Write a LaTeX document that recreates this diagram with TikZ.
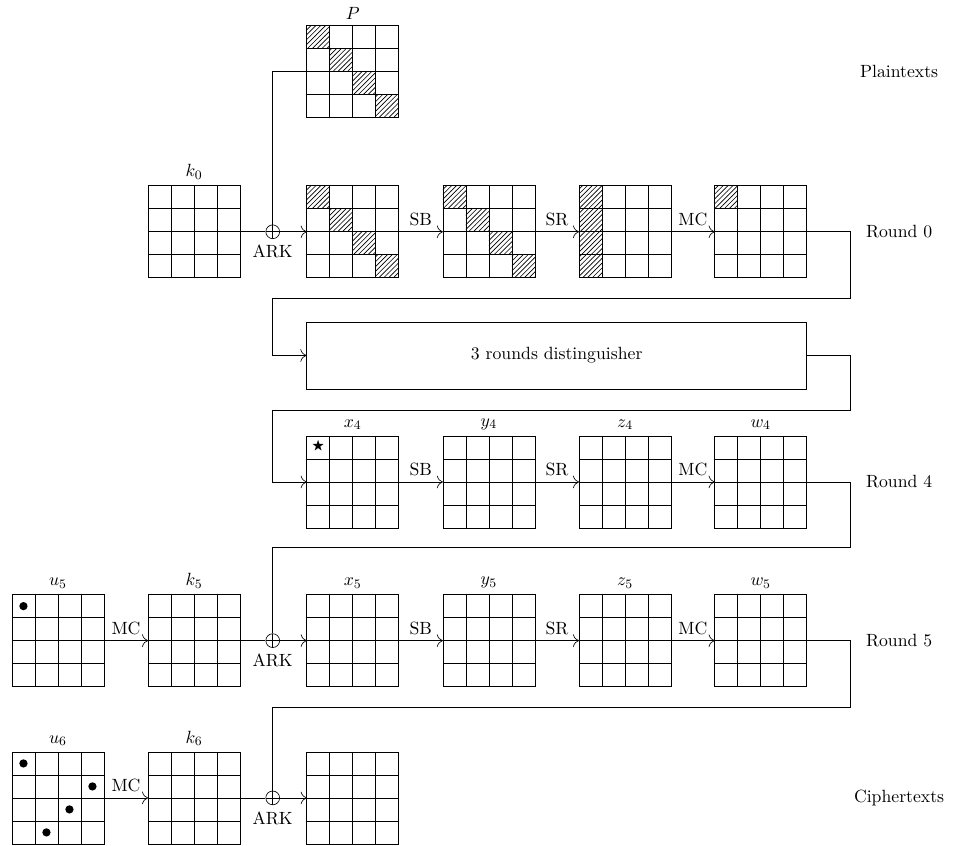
\documentclass[tikz,border=0pt,11pt]{standalone}
\usepackage{amsmath,amssymb}
\usetikzlibrary{patterns,arrows.meta}

\tikzset{
  >={To[scale=1.5]},
  state/.style={draw, minimum size=2cm, inner sep=0pt, outer sep=0pt},
  xorop/.style={circle, draw, minimum size=0.3cm, inner sep=0pt,
    path picture={\draw (path picture bounding box.north) -- (path picture bounding box.south)
      (path picture bounding box.west) -- (path picture bounding box.east);}},
}
\newcommand{\hatchcell}[3]{\fill[pattern=north east lines] ([shift={(#2*0.5,-#3*0.5)}]#1.north west) rectangle ++(0.5,-0.5);}
\newcommand{\dotcell}[3]{\fill ([shift={(#2*0.5+0.25,-#3*0.5-0.25)}]#1.north west) circle (0.09);}

\begin{document}
\begin{tikzpicture}
\useasboundingbox (0,0) rectangle (21.07,18.39);

\node[state, label=above:$P$] (P) at (7.67,16.83) {};
\node[state, label=above:$k_0$] (k0) at (4.22,13.35) {};
\node[xorop, label={below:ARK}] (ark0) at (5.93,13.35) {};
\node[state] (x0) at (7.67,13.35) {};
\node[state] (y0) at (10.63,13.35) {};
\node[state] (z0) at (13.59,13.35) {};
\node[state] (w0) at (16.54,13.35) {};

\node[draw, minimum width=10.87cm, minimum height=1.46cm] (dist) at (12.105,10.66) {3 rounds distinguisher};

\node[state, label=above:$x_4$] (x4) at (7.67,7.91) {};
\node[state, label=above:$y_4$] (y4) at (10.63,7.91) {};
\node[state, label=above:$z_4$] (z4) at (13.59,7.91) {};
\node[state, label=above:$w_4$] (w4) at (16.54,7.91) {};

\node[state, label=above:$u_5$] (u5) at (1.26,4.46) {};
\node[state, label=above:$k_5$] (k5) at (4.22,4.46) {};
\node[xorop, label={below:ARK}] (ark5) at (5.93,4.46) {};
\node[state, label=above:$x_5$] (x5) at (7.67,4.46) {};
\node[state, label=above:$y_5$] (y5) at (10.63,4.46) {};
\node[state, label=above:$z_5$] (z5) at (13.59,4.46) {};
\node[state, label=above:$w_5$] (w5) at (16.54,4.46) {};

\node[state, label=above:$u_6$] (u6) at (1.26,1.04) {};
\node[state, label=above:$k_6$] (k6) at (4.22,1.04) {};
\node[xorop, label={below:ARK}] (ark6) at (5.93,1.04) {};
\node[state] (x6) at (7.67,1.04) {};

\node (pt) at (19.55,16.83) {Plaintexts};
\node (rd0) at (19.55,13.35) {Round 0};
\node (rd4) at (19.55,7.91) {Round 4};
\node (rd5) at (19.55,4.46) {Round 5};
\node (ct) at (19.55,1.04) {Ciphertexts};

\hatchcell{P}{0}{0} \hatchcell{P}{1}{1} \hatchcell{P}{2}{2} \hatchcell{P}{3}{3}
\hatchcell{x0}{0}{0} \hatchcell{x0}{1}{1} \hatchcell{x0}{2}{2} \hatchcell{x0}{3}{3}
\hatchcell{y0}{0}{0} \hatchcell{y0}{1}{1} \hatchcell{y0}{2}{2} \hatchcell{y0}{3}{3}
\hatchcell{z0}{0}{0} \hatchcell{z0}{0}{1} \hatchcell{z0}{0}{2} \hatchcell{z0}{0}{3}
\hatchcell{w0}{0}{0}

\foreach \s in {P,k0,x0,y0,z0,w0,x4,y4,z4,w4,u5,k5,x5,y5,z5,w5,u6,k6,x6}
  \draw[shift={(\s.south west)}] (0,0) grid[step=0.5] (2,2);

\node[inner sep=0pt] (star) at ([shift={(0.25,-0.23)}]x4.north west) {\scriptsize$\bigstar$};
\dotcell{u5}{0}{0}
\dotcell{u6}{0}{0} \dotcell{u6}{3}{1} \dotcell{u6}{2}{2} \dotcell{u6}{1}{3}

\draw (P.west) -| (ark0);
\draw (k0) -- (ark0);
\draw[->] (ark0) -- (x0);
\draw[->] (x0) -- node[above] {SB} (y0);
\draw[->] (y0) -- node[above] {SR} (z0);
\draw[->] (z0) -- node[above] {MC} (w0);

\coordinate (e0) at (18.5,11.91);
\coordinate (f0) at (5.93,11.91);
\draw[->] (w0.east) -| (e0) -- (f0) |- (dist.west);
\coordinate (e1) at (18.5,9.46);
\coordinate (f1) at (5.93,9.46);
\draw[->] (dist.east) -| (e1) -- (f1) |- (x4.west);

\draw[->] (x4) -- node[above] {SB} (y4);
\draw[->] (y4) -- node[above] {SR} (z4);
\draw[->] (z4) -- node[above] {MC} (w4);

\coordinate (e2) at (18.5,6.48);
\draw (w4.east) -| (e2) -| (ark5);

\draw[->] (u5) -- node[above] {MC} (k5);
\draw (k5) -- (ark5);
\draw[->] (ark5) -- (x5);
\draw[->] (x5) -- node[above] {SB} (y5);
\draw[->] (y5) -- node[above] {SR} (z5);
\draw[->] (z5) -- node[above] {MC} (w5);

\coordinate (e3) at (18.5,3.02);
\draw (w5.east) -| (e3) -| (ark6);

\draw[->] (u6) -- node[above] {MC} (k6);
\draw (k6) -- (ark6);
\draw[->] (ark6) -- (x6);
\end{tikzpicture}
\end{document}
